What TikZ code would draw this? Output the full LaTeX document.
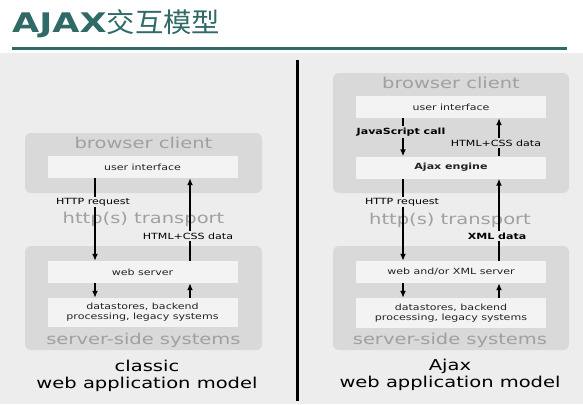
\documentclass[tikz,border=0pt]{standalone}
\usepackage{fontspec}
\usetikzlibrary{arrows.meta}
\newfontfamily\vfont[FakeStretch=1.3]{DejaVu Sans}
\newfontfamily\cjk[FakeStretch=1.05]{Noto Sans CJK SC}
\definecolor{teal1}{HTML}{2F6A67}
\definecolor{bg}{HTML}{EDEDED}
\definecolor{boxg}{HTML}{D9D9D9}
\definecolor{inner}{HTML}{F3F3F3}
\definecolor{txtg}{HTML}{A0A0A0}
\definecolor{dark}{HTML}{222222}
\begin{document}
\begin{tikzpicture}[x=1pt, y=-1pt, >={Latex[length=7pt,width=6pt]},
  tier/.style={fill=boxg, rounded corners=6pt, minimum width=237pt, inner sep=0pt},
  part/.style={fill=inner, text=dark, minimum width=190pt, minimum height=22pt, inner sep=0pt, align=center, font=\vfont\fontsize{8.5}{10}\selectfont},
  big/.style={text=txtg, inner sep=0pt, font=\vfont\fontsize{15}{17}\selectfont},
  lbl/.style={inner sep=1.5pt, font=\vfont\fontsize{8.5}{10}\selectfont},
  modelname/.style={align=center, inner sep=0pt, font=\vfont\fontsize{15}{17}\selectfont},
  arr/.style={->, line width=1.4pt}]
\useasboundingbox (0,0) rectangle (583,404);
\fill[bg] (0,53) rectangle (583,404);
\node[anchor=base west, inner sep=0pt, text=teal1, font=\fontsize{27}{30}\selectfont] (title) at (12,33) {{\vfont\bfseries AJAX}{\cjk 交互模型}};
\draw[teal1, line width=3pt] (12,49) -- (567,49);
\draw[line width=3pt] (297,60) -- (297,401);
% classic model
\node[tier, minimum height=60pt] (client) at (143.5,163) {};
\node[big] (bc) at (143.5,143) {browser client};
\node[part] (ui) at (142.5,167) {user interface};
\node[big] (tr) at (143.5,219) {http(s) transport};
\node[tier, minimum height=104pt] (server) at (143.5,298) {};
\node[part] (ws) at (142.5,272) {web server};
\node[part, minimum height=29pt] (ds) at (142.5,312.5) {datastores, backend\\processing, legacy systems};
\node[big] (ss) at (143.5,340) {server-side systems};
\node[modelname] (m1) at (147,376) {classic\\web application model};
\coordinate (l1) at (95,0);
\coordinate (l2) at (190,0);
\draw[arr] (ui.south -| l1) -- (ws.north -| l1);
\draw[arr] (ws.north -| l2) -- (ui.south -| l2);
\draw[arr] (ws.south -| l1) -- (ds.north -| l1);
\draw[arr] (ds.north -| l2) -- (ws.south -| l2);
\node[lbl, fill=bg] (req) at (93,202) {HTTP request};
\node[lbl, fill=bg] (html) at (188,236) {HTML+CSS data};
% ajax model
\node[tier, minimum height=120pt, minimum width=236pt] (client2) at (451,133) {};
\node[big] (bc2) at (451,83) {browser client};
\node[part] (ui2) at (451,107) {user interface};
\node[part, font=\vfont\bfseries\fontsize{8.5}{10}\selectfont] (eng) at (451,167.5) {Ajax engine};
\node[big] (tr2) at (450,220) {http(s) transport};
\node[tier, minimum height=104pt, minimum width=236pt] (server2) at (451,298) {};
\node[part] (ws2) at (451,272) {web and/or XML server};
\node[part, minimum height=30pt] (ds2) at (451,313) {datastores, backend\\processing, legacy systems};
\node[big] (ss2) at (450,340) {server-side systems};
\node[modelname] (m2) at (450,375) {Ajax\\web application model};
\coordinate (r1) at (403,0);
\coordinate (r2) at (499,0);
\draw[arr] (ui2.south -| r1) -- (eng.north -| r1);
\draw[arr] (eng.north -| r2) -- (ui2.south -| r2);
\draw[arr] (eng.south -| r1) -- (ws2.north -| r1);
\draw[arr] (ws2.north -| r2) -- (eng.south -| r2);
\draw[arr] (ws2.south -| r1) -- (ds2.north -| r1);
\draw[arr] (ds2.north -| r2) -- (ws2.south -| r2);
\node[lbl, fill=boxg, font=\vfont\bfseries\fontsize{8.5}{10}\selectfont] (js) at (401,132) {JavaScript call};
\node[lbl, fill=boxg] (html2) at (496,143) {HTML+CSS data};
\node[lbl, fill=bg] (req2) at (402,202) {HTTP request};
\node[lbl, fill=bg, font=\vfont\bfseries\fontsize{8.5}{10}\selectfont] (xml) at (497,236) {XML data};
\end{tikzpicture}
\end{document}
